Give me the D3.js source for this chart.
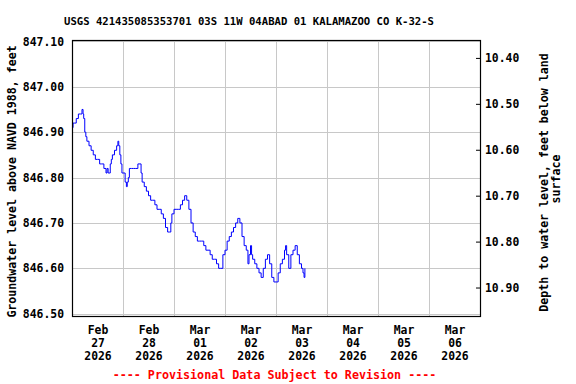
<!DOCTYPE html>
<html>
<head>
<meta charset="utf-8">
<script src="https://cdn.jsdelivr.net/npm/d3@7"></script>
<style>
  html, body { margin: 0; padding: 0; background: #fff; }
  svg { display: block; }
  text { font-family: "DejaVu Sans Mono", "Liberation Mono", monospace; font-weight: bold; fill: #000; }
</style>
</head>
<body>
<svg id="chart" width="576" height="384"></svg>
<script>
// ---------------- DATA ----------------
const title = "USGS 421435085353701 03S 11W 04ABAD 01 KALAMAZOO CO K-32-S";
const leftLabel = "Groundwater level above NAVD 1988, feet";
const rightLabel1 = "Depth to water level, feet below land";
const rightLabel2 = "surface";
const footer = "---- Provisional Data Subject to Revision ----";

const xDomain = ["2026-02-27T00:00:00Z", "2026-03-07T00:00:00Z"];
const dayLabels = ["2026-02-27", "2026-02-28", "2026-03-01", "2026-03-02",
                   "2026-03-03", "2026-03-04", "2026-03-05", "2026-03-06"];
const leftTicks = [846.50, 846.60, 846.70, 846.80, 846.90, 847.00, 847.10];
const rightTicks = [10.40, 10.50, 10.60, 10.70, 10.80, 10.90];
const leftDomain = [846.495, 847.103];
const rightDomain = [10.361, 10.962];

const seriesStart = "2026-02-27T00:00:00Z";
// hours after series start
const hours = [0, 0.5, 1, 2, 3, 4, 4.7, 5.2, 5.5, 6, 6.5, 7, 8, 9, 10, 11, 12, 13, 14, 15, 16, 16.5, 17, 18, 18.5,
  19, 20, 21, 21.6, 22, 22.5, 23, 23.5, 24, 25, 25.6, 26, 26.5, 27, 28, 29, 30, 31, 32, 32.5, 33, 34, 35, 36,
  37, 38, 39, 40, 41, 42, 43, 44, 45, 46, 46.5, 47, 48, 49, 50, 51, 52, 53, 54, 55, 56, 57, 58, 59, 60, 61,
  62, 63, 64, 65, 66, 67, 68, 69, 70, 71, 72, 73, 74, 75, 76, 77, 78, 79, 80, 81, 82, 82.8, 83.3, 84, 84.5,
  85, 86, 87, 88, 89, 90, 91, 92, 93, 94, 95, 96, 97, 98, 99, 100, 100.5, 101, 102, 103, 104, 105, 106, 107,
  108, 108.7, 109.2, 109.6];
const levels = [846.91, 846.92, 846.92, 846.93, 846.94, 846.94, 846.95, 846.94, 846.93, 846.90, 846.89, 846.88,
  846.87, 846.86, 846.85, 846.84, 846.84, 846.83, 846.83, 846.82, 846.81, 846.82, 846.81, 846.83, 846.84,
  846.85, 846.86, 846.87, 846.88, 846.87, 846.85, 846.83, 846.81, 846.81, 846.79, 846.78, 846.79, 846.80,
  846.82, 846.82, 846.82, 846.82, 846.83, 846.83, 846.81, 846.79, 846.78, 846.77, 846.76,
  846.75, 846.75, 846.74, 846.73, 846.73, 846.72, 846.71, 846.69, 846.68, 846.68, 846.70, 846.72, 846.73,
  846.73, 846.73, 846.74, 846.75, 846.76, 846.75, 846.73, 846.70, 846.68, 846.67, 846.66, 846.66, 846.66,
  846.65, 846.64, 846.64, 846.63, 846.62, 846.62, 846.61, 846.60, 846.60, 846.63, 846.64, 846.66, 846.67,
  846.68, 846.69, 846.70, 846.71, 846.70, 846.67, 846.65, 846.64, 846.61, 846.63, 846.65, 846.63,
  846.62, 846.61, 846.60, 846.59, 846.58, 846.60, 846.62, 846.63, 846.61, 846.58, 846.57, 846.57, 846.59,
  846.61, 846.62, 846.64, 846.65, 846.63, 846.60, 846.63, 846.64, 846.65, 846.63, 846.61,
  846.60, 846.59, 846.58, 846.60];

// ---------------- CHART ----------------
const svg = d3.select("#chart");
const plot = { left: 72, right: 480, top: 40, bottom: 316 };

const x = d3.scaleUtc().domain(xDomain.map(d => new Date(d))).range([plot.left, plot.right]);
const yL = d3.scaleLinear().domain(leftDomain).range([plot.bottom, plot.top]);
const yR = d3.scaleLinear().domain(rightDomain).range([plot.top, plot.bottom]);

const t0 = new Date(seriesStart).getTime();
const data = hours.map((h, i) => ({ t: new Date(t0 + h * 3600e3), v: levels[i] }));

// gridlines
const midnights = d3.utcDay.range(new Date(xDomain[0]), new Date(xDomain[1])).slice(1);
const gx = svg.append("g").attr("transform", `translate(0,${plot.bottom})`)
  .call(d3.axisBottom(x).tickValues(midnights).tickSize(-(plot.bottom - plot.top)).tickFormat(""));
gx.select(".domain").remove();
gx.selectAll("line").attr("stroke", "#c8c8c8").attr("shape-rendering", "crispEdges");

const gy = svg.append("g").attr("transform", `translate(${plot.left},0)`)
  .call(d3.axisLeft(yL).tickValues(leftTicks).tickSize(-(plot.right - plot.left)).tickFormat(""));
gy.select(".domain").remove();
gy.selectAll("line").attr("stroke", "#c8c8c8").attr("shape-rendering", "crispEdges");

// data line
const line = d3.line().x(d => x(d.t)).y(d => yL(d.v)).curve(d3.curveStepAfter);
svg.append("path").datum(data).attr("d", line)
  .attr("fill", "none").attr("stroke", "#0000ff").attr("stroke-width", 1);

// border
svg.append("rect").attr("x", plot.left + 0.5).attr("y", plot.top + 0.5)
  .attr("width", plot.right - plot.left).attr("height", plot.bottom - plot.top)
  .attr("fill", "none").attr("stroke", "#000").attr("stroke-width", 1.2);

// left axis labels
const aL = svg.append("g").attr("transform", `translate(${plot.left},0)`)
  .call(d3.axisLeft(yL).tickValues(leftTicks).tickSize(0).tickPadding(8).tickFormat(d3.format(".2f")));
aL.select(".domain").remove();
aL.attr("font-family", null).attr("font-size", null);
aL.selectAll("text").style("font-size", "11.4px");

// right axis
const aR = svg.append("g").attr("transform", `translate(${plot.right},0)`)
  .call(d3.axisRight(yR).tickValues(rightTicks).tickSize(-4).tickPadding(5).tickFormat(d3.format(".2f")));
aR.select(".domain").remove();
aR.attr("font-family", null).attr("font-size", null);
aR.selectAll("line").attr("stroke", "#000");
aR.selectAll("text").style("font-size", "11.4px");

// bottom axis labels (at noon)
const noons = dayLabels.map(d => new Date(d + "T12:00:00Z"));
const fmtMon = d3.utcFormat("%b"), fmtDay = d3.utcFormat("%d"), fmtYr = d3.utcFormat("%Y");
const aB = svg.append("g").attr("transform", `translate(0,${plot.bottom})`)
  .call(d3.axisBottom(x).tickValues(noons).tickSize(0).tickFormat(""));
aB.select(".domain").remove();
aB.attr("font-family", null).attr("font-size", null);
aB.selectAll(".tick text").attr("y", 0).attr("dy", null).style("font-size", "11.4px")
  .each(function(d) {
    const t = d3.select(this);
    [fmtMon(d), fmtDay(d), fmtYr(d)].forEach((s, i) => {
      t.append("tspan").attr("x", 0).attr("y", 18 + i * 13).text(s);
    });
  });

// title
svg.append("text").attr("x", 249).attr("y", 24.5).attr("text-anchor", "middle")
  .style("font-size", "10.6px").text(title);

// left axis title
svg.append("text").attr("transform", "translate(15.5,181.5) rotate(-90)")
  .attr("text-anchor", "middle").style("font-size", "11.6px").text(leftLabel);

// right axis title
svg.append("text").attr("transform", "translate(548,182.5) rotate(-90)")
  .attr("text-anchor", "middle").style("font-size", "11.6px").text(rightLabel1);
svg.append("text").attr("transform", "translate(560,179) rotate(-90)")
  .attr("text-anchor", "middle").style("font-size", "11.6px").text(rightLabel2);

// footer
svg.append("text").attr("x", 274.5).attr("y", 379).attr("text-anchor", "middle")
  .style("font-size", "11.7px").style("fill", "#ff0000").text(footer);
</script>
</body>
</html>
